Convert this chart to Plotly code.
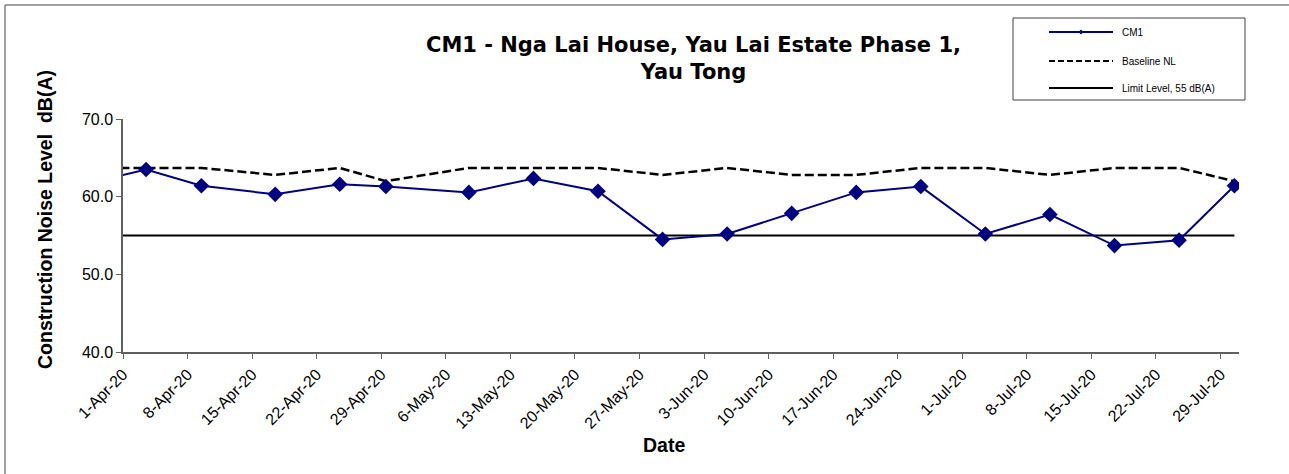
import plotly.graph_objects as go
import pandas as pd

# ---- data ----
dates = ["2020-03-27", "2020-04-03", "2020-04-09", "2020-04-17", "2020-04-24",
         "2020-04-29", "2020-05-08", "2020-05-15", "2020-05-22", "2020-05-29",
         "2020-06-05", "2020-06-12", "2020-06-19", "2020-06-26", "2020-07-03",
         "2020-07-10", "2020-07-17", "2020-07-24", "2020-07-30"]
cm1 = [61.5, 63.5, 61.4, 60.3, 61.6, 61.3, 60.55, 62.35, 60.7, 54.5,
       55.2, 57.85, 60.55, 61.3, 55.2, 57.7, 53.7, 54.4, 61.4]
baseline_nl = [63.7, 63.7, 63.7, 62.8, 63.7, 62.0, 63.7, 63.7, 63.7, 62.8,
               63.7, 62.8, 62.8, 63.7, 63.7, 62.8, 63.7, 63.7, 62.0]
limit_level = [55.0, 55.0, 55.0, 55.0, 55.0, 55.0, 55.0, 55.0, 55.0, 55.0,
               55.0, 55.0, 55.0, 55.0, 55.0, 55.0, 55.0, 55.0, 55.0]

tick_dates = ["2020-04-01", "2020-04-08", "2020-04-15", "2020-04-22", "2020-04-29",
              "2020-05-06", "2020-05-13", "2020-05-20", "2020-05-27", "2020-06-03",
              "2020-06-10", "2020-06-17", "2020-06-24", "2020-07-01", "2020-07-08",
              "2020-07-15", "2020-07-22", "2020-07-29"]
tick_labels = ["1-Apr-20", "8-Apr-20", "15-Apr-20", "22-Apr-20", "29-Apr-20",
               "6-May-20", "13-May-20", "20-May-20", "27-May-20", "3-Jun-20",
               "10-Jun-20", "17-Jun-20", "24-Jun-20", "1-Jul-20", "8-Jul-20",
               "15-Jul-20", "22-Jul-20", "29-Jul-20"]

title_text = "CM1 - Nga Lai House, Yau Lai Estate Phase 1,<br>Yau Tong"
y_title = "Construction Noise Level  dB(A)"
x_title = "Date"
legend_names = ["CM1", "Baseline NL", "Limit Level, 55 dB(A)"]

# points sit in the middle of each day slot (Excel date axis)
x = pd.to_datetime(dates) + pd.Timedelta(hours=12)

W, H = 1289, 474
L, R, T, B = 123, 50, 119, 122
PW, PH = W - L - R, H - T - B


def px(xp):
    return (xp - L) / PW


def py(yp):
    return (H - B - yp) / PH


FONT = "Liberation Sans, Arial, sans-serif"
DASH = "9px,4px"

fig = go.Figure()
fig.add_trace(go.Scatter(x=x, y=baseline_nl, mode="lines", name=legend_names[1],
                         line=dict(color="black", width=2.5, dash=DASH),
                         showlegend=False))
fig.add_trace(go.Scatter(x=x, y=limit_level, mode="lines", name=legend_names[2],
                         line=dict(color="black", width=2), showlegend=False))
fig.add_trace(go.Scatter(x=x, y=cm1, mode="lines+markers", name=legend_names[0],
                         line=dict(color="#000080", width=2),
                         marker=dict(symbol="diamond", size=12, color="#000080"),
                         showlegend=False))

shapes = []
annotations = []

# outer frame (top and left edges visible)
shapes.append(dict(type="line", xref="paper", yref="paper",
                   x0=px(5), x1=px(1300), y0=py(5), y1=py(5),
                   line=dict(color="#808080", width=1.5)))
shapes.append(dict(type="line", xref="paper", yref="paper",
                   x0=px(5), x1=px(5), y0=py(5), y1=py(480),
                   line=dict(color="#808080", width=1.5)))

# legend box
shapes.append(dict(type="rect", xref="paper", yref="paper",
                   x0=px(1013), x1=px(1245), y0=py(18), y1=py(100),
                   line=dict(color="#404040", width=1), fillcolor="white"))
rows = [32, 61, 88]
styles = [dict(color="#000080", width=2), dict(color="black", width=2, dash="6px,3px"),
          dict(color="black", width=2)]
for ry, st, nm in zip(rows, styles, legend_names):
    shapes.append(dict(type="line", xref="paper", yref="paper",
                       x0=px(1049), x1=px(1113), y0=py(ry), y1=py(ry), line=st))
    annotations.append(dict(text=nm, xref="paper", yref="paper", x=px(1120), y=py(ry),
                            xanchor="left", yanchor="middle", showarrow=False,
                            font=dict(family=FONT, size=10, color="black")))
# small marker on CM1 sample
cx, cy, d = 1081, 32, 2.5
shapes.append(dict(type="path", xref="paper", yref="paper",
                   path=f"M {px(cx-d)} {py(cy)} L {px(cx)} {py(cy-d)} L {px(cx+d)} {py(cy)} L {px(cx)} {py(cy+d)} Z",
                   fillcolor="#000080", line=dict(color="#000080", width=0)))

# title
annotations.append(dict(text=title_text, xref="paper", yref="paper",
                        x=px(693), y=py(58), xanchor="center", yanchor="middle",
                        showarrow=False, align="center",
                        font=dict(family="DejaVu Sans, sans-serif", size=21,
                                  color="black", weight="bold")))
# axis titles
annotations.append(dict(text=f"<b>{y_title}</b>", xref="paper", yref="paper",
                        x=px(45), y=py(220), xanchor="center", yanchor="middle",
                        textangle=-90, showarrow=False,
                        font=dict(family=FONT, size=19.5, color="black")))
annotations.append(dict(text=f"<b>{x_title}</b>", xref="paper", yref="paper",
                        x=px(664), y=py(445), xanchor="center", yanchor="middle",
                        showarrow=False,
                        font=dict(family=FONT, size=19.5, color="black")))

fig.update_layout(
    width=W, height=H,
    margin=dict(l=L, r=R, t=T, b=B, autoexpand=False),
    paper_bgcolor="white", plot_bgcolor="white",
    showlegend=False,
    shapes=shapes, annotations=annotations,
    font=dict(family=FONT, color="black"),
)
fig.update_xaxes(type="date", range=["2020-04-01", "2020-07-31"],
                 tickvals=pd.to_datetime(tick_dates), ticktext=tick_labels,
                 tickangle=-45, tickfont=dict(family=FONT, size=16, color="black"),
                 showline=True, linecolor="#606060", linewidth=1.5,
                 ticks="outside", ticklen=5, tickcolor="#606060",
                 showgrid=False, zeroline=False, automargin=False)
fig.update_yaxes(range=[40, 70], dtick=10, tick0=40, tickformat=".1f",
                 tickfont=dict(family=FONT, size=16, color="black"),
                 showline=True, linecolor="#606060", linewidth=1.5,
                 ticks="outside", ticklen=5, tickcolor="#606060",
                 showgrid=False, zeroline=False, automargin=False)

fig.write_html("out.html", config={"displayModeBar": False},
               post_script="document.body.style.margin='0';")
